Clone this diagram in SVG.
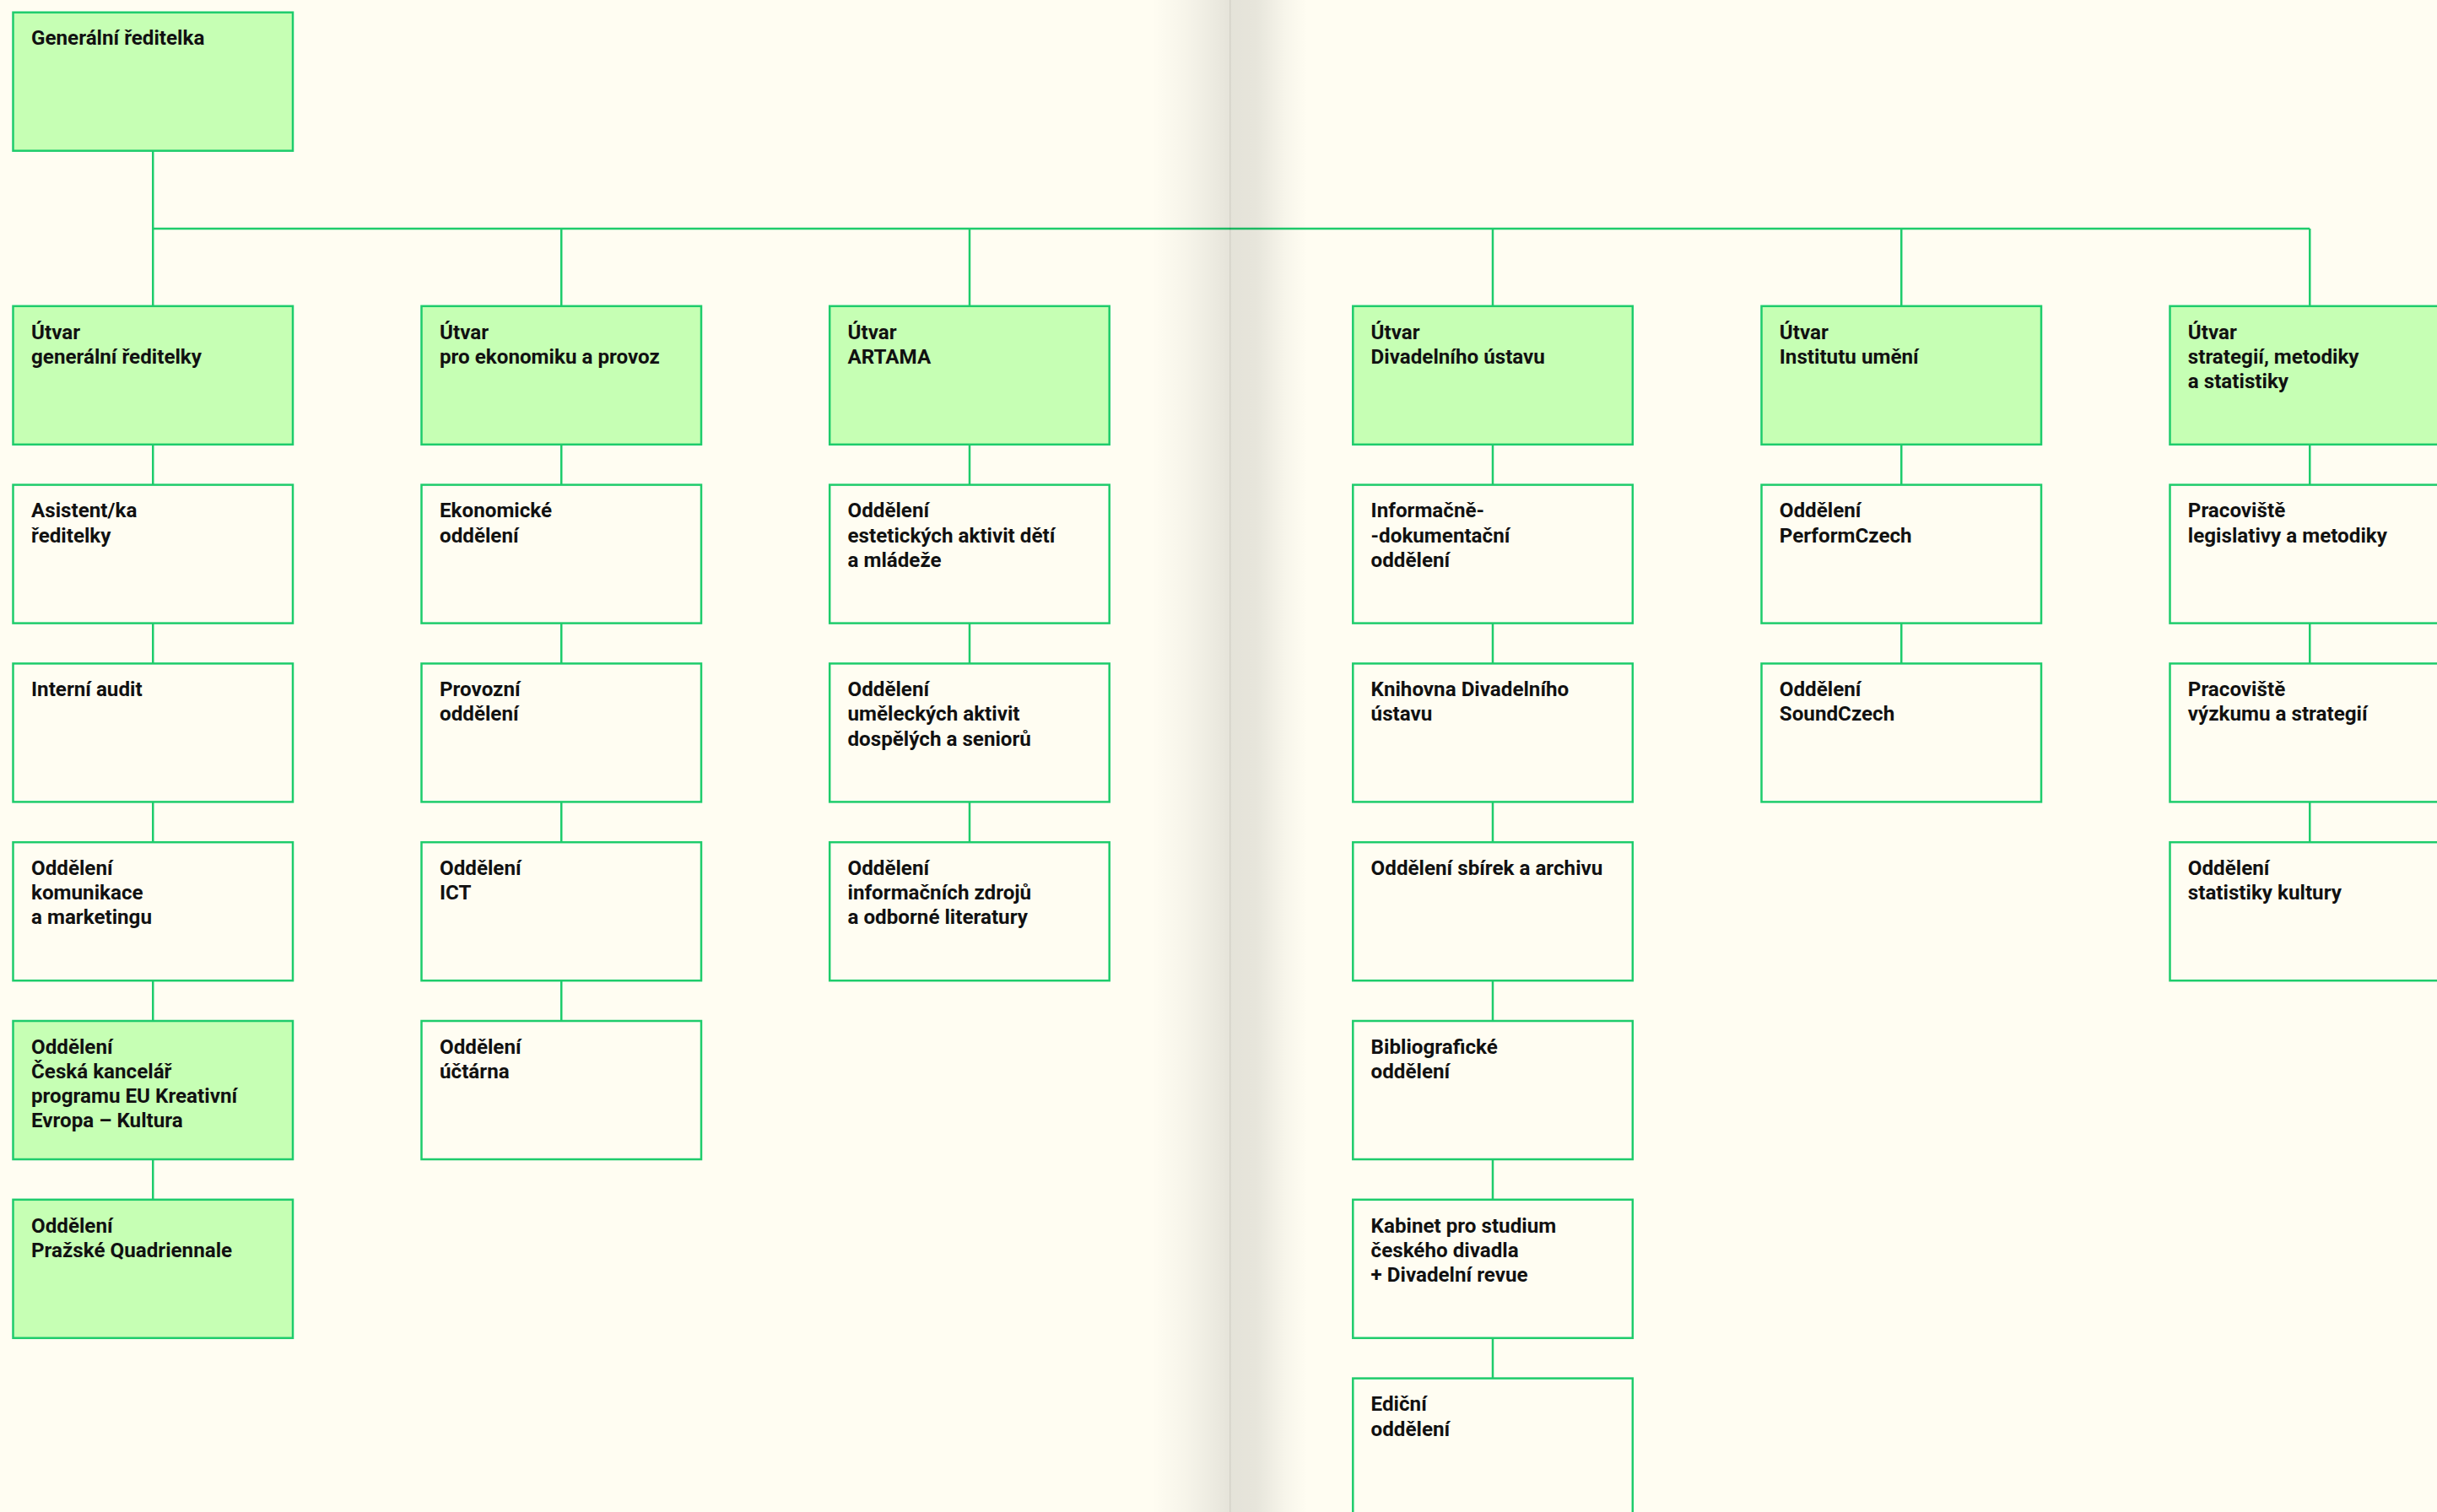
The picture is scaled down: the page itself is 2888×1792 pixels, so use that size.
<svg xmlns="http://www.w3.org/2000/svg" width="2888" height="1792" viewBox="0 0 2888 1792">
<defs>
<style>
.g{fill:#c6ffb4;stroke:#1ecc6c;stroke-width:2.5}
.w{fill:#fffdf2;stroke:#1ecc6c;stroke-width:2.5}
.c{stroke:#1ecc6c;stroke-width:2.5;fill:none}
.t{font-family:Roboto,"Liberation Sans",sans-serif;font-weight:700;font-size:24.2px;fill:#111111}
</style>
<linearGradient id="spine" x1="1365" y1="0" x2="1550" y2="0" gradientUnits="userSpaceOnUse">
<stop offset="0" stop-color="#000" stop-opacity="0"/>
<stop offset="0.22" stop-color="#000" stop-opacity="0.035"/>
<stop offset="0.4" stop-color="#000" stop-opacity="0.075"/>
<stop offset="0.495" stop-color="#000" stop-opacity="0.1"/>
<stop offset="0.5" stop-color="#000" stop-opacity="0.17"/>
<stop offset="0.51" stop-color="#000" stop-opacity="0.105"/>
<stop offset="0.67" stop-color="#000" stop-opacity="0.095"/>
<stop offset="0.77" stop-color="#000" stop-opacity="0.06"/>
<stop offset="0.86" stop-color="#000" stop-opacity="0.03"/>
<stop offset="1" stop-color="#000" stop-opacity="0"/>
</linearGradient>
</defs>
<rect x="0" y="0" width="2888" height="1792" fill="#fffdf2"/>
<g id="connectors">
<line class="c" x1="181.25" y1="178.7" x2="181.25" y2="362.8"/>
<line class="c" x1="181.25" y1="271" x2="2737.25" y2="271"/>
<line class="c" x1="665.25" y1="271" x2="665.25" y2="362.8"/>
<line class="c" x1="1149" y1="271" x2="1149" y2="362.8"/>
<line class="c" x1="1769" y1="271" x2="1769" y2="362.8"/>
<line class="c" x1="2253.25" y1="271" x2="2253.25" y2="362.8"/>
<line class="c" x1="2737.25" y1="271" x2="2737.25" y2="362.8"/>
<line class="c" x1="181.25" y1="526.8" x2="181.25" y2="1421.8"/>
<line class="c" x1="665.25" y1="526.8" x2="665.25" y2="1210"/>
<line class="c" x1="1149" y1="526.8" x2="1149" y2="998.2"/>
<line class="c" x1="1769" y1="526.8" x2="1769" y2="1633.6"/>
<line class="c" x1="2253.25" y1="526.8" x2="2253.25" y2="786.4"/>
<line class="c" x1="2737.25" y1="526.8" x2="2737.25" y2="998.2"/>
</g>
<g id="n-gr"><rect class="g" x="15.5" y="14.7" width="331.5" height="164"/><text class="t" x="37" y="53.4">Generální ředitelka</text></g>

<g id="n-u1"><rect class="g" x="15.5" y="362.8" width="331.5" height="164"/><text class="t" x="37" y="401.5"><tspan x="37">Útvar</tspan><tspan x="37" dy="29.2">generální ředitelky</tspan></text></g>
<g id="n-u1a"><rect class="w" x="15.5" y="574.6" width="331.5" height="164"/><text class="t" x="37" y="613.3"><tspan x="37">Asistent/ka</tspan><tspan x="37" dy="29.2">ředitelky</tspan></text></g>
<g id="n-u1b"><rect class="w" x="15.5" y="786.4" width="331.5" height="164"/><text class="t" x="37" y="825.1">Interní audit</text></g>
<g id="n-u1c"><rect class="w" x="15.5" y="998.2" width="331.5" height="164"/><text class="t" x="37" y="1036.9"><tspan x="37">Oddělení</tspan><tspan x="37" dy="29.2">komunikace</tspan><tspan x="37" dy="29.2">a marketingu</tspan></text></g>
<g id="n-u1d"><rect class="g" x="15.5" y="1210" width="331.5" height="164"/><text class="t" x="37" y="1248.7"><tspan x="37">Oddělení</tspan><tspan x="37" dy="29.2">Česká kancelář</tspan><tspan x="37" dy="29.2">programu EU Kreativní</tspan><tspan x="37" dy="29.2">Evropa – Kultura</tspan></text></g>
<g id="n-u1e"><rect class="g" x="15.5" y="1421.8" width="331.5" height="164"/><text class="t" x="37" y="1460.5"><tspan x="37">Oddělení</tspan><tspan x="37" dy="29.2">Pražské Quadriennale</tspan></text></g>

<g id="n-u2"><rect class="g" x="499.5" y="362.8" width="331.5" height="164"/><text class="t" x="521" y="401.5"><tspan x="521">Útvar</tspan><tspan x="521" dy="29.2">pro ekonomiku a provoz</tspan></text></g>
<g id="n-u2a"><rect class="w" x="499.5" y="574.6" width="331.5" height="164"/><text class="t" x="521" y="613.3"><tspan x="521">Ekonomické</tspan><tspan x="521" dy="29.2">oddělení</tspan></text></g>
<g id="n-u2b"><rect class="w" x="499.5" y="786.4" width="331.5" height="164"/><text class="t" x="521" y="825.1"><tspan x="521">Provozní</tspan><tspan x="521" dy="29.2">oddělení</tspan></text></g>
<g id="n-u2c"><rect class="w" x="499.5" y="998.2" width="331.5" height="164"/><text class="t" x="521" y="1036.9"><tspan x="521">Oddělení</tspan><tspan x="521" dy="29.2">ICT</tspan></text></g>
<g id="n-u2d"><rect class="w" x="499.5" y="1210" width="331.5" height="164"/><text class="t" x="521" y="1248.7"><tspan x="521">Oddělení</tspan><tspan x="521" dy="29.2">účtárna</tspan></text></g>

<g id="n-u3"><rect class="g" x="983.2" y="362.8" width="331.5" height="164"/><text class="t" x="1004.5" y="401.5"><tspan x="1004.5">Útvar</tspan><tspan x="1004.5" dy="29.2">ARTAMA</tspan></text></g>
<g id="n-u3a"><rect class="w" x="983.2" y="574.6" width="331.5" height="164"/><text class="t" x="1004.5" y="613.3"><tspan x="1004.5">Oddělení</tspan><tspan x="1004.5" dy="29.2">estetických aktivit dětí</tspan><tspan x="1004.5" dy="29.2">a mládeže</tspan></text></g>
<g id="n-u3b"><rect class="w" x="983.2" y="786.4" width="331.5" height="164"/><text class="t" x="1004.5" y="825.1"><tspan x="1004.5">Oddělení</tspan><tspan x="1004.5" dy="29.2">uměleckých aktivit</tspan><tspan x="1004.5" dy="29.2">dospělých a seniorů</tspan></text></g>
<g id="n-u3c"><rect class="w" x="983.2" y="998.2" width="331.5" height="164"/><text class="t" x="1004.5" y="1036.9"><tspan x="1004.5">Oddělení</tspan><tspan x="1004.5" dy="29.2">informačních zdrojů</tspan><tspan x="1004.5" dy="29.2">a odborné literatury</tspan></text></g>

<g id="n-u4"><rect class="g" x="1603.3" y="362.8" width="331.5" height="164"/><text class="t" x="1624.6" y="401.5"><tspan x="1624.6">Útvar</tspan><tspan x="1624.6" dy="29.2">Divadelního ústavu</tspan></text></g>
<g id="n-u4a"><rect class="w" x="1603.3" y="574.6" width="331.5" height="164"/><text class="t" x="1624.6" y="613.3"><tspan x="1624.6">Informačně-</tspan><tspan x="1624.6" dy="29.2">-dokumentační</tspan><tspan x="1624.6" dy="29.2">oddělení</tspan></text></g>
<g id="n-u4b"><rect class="w" x="1603.3" y="786.4" width="331.5" height="164"/><text class="t" x="1624.6" y="825.1"><tspan x="1624.6">Knihovna Divadelního</tspan><tspan x="1624.6" dy="29.2">ústavu</tspan></text></g>
<g id="n-u4c"><rect class="w" x="1603.3" y="998.2" width="331.5" height="164"/><text class="t" x="1624.6" y="1036.9">Oddělení sbírek a archivu</text></g>
<g id="n-u4d"><rect class="w" x="1603.3" y="1210" width="331.5" height="164"/><text class="t" x="1624.6" y="1248.7"><tspan x="1624.6">Bibliografické</tspan><tspan x="1624.6" dy="29.2">oddělení</tspan></text></g>
<g id="n-u4e"><rect class="w" x="1603.3" y="1421.8" width="331.5" height="164"/><text class="t" x="1624.6" y="1460.5"><tspan x="1624.6">Kabinet pro studium</tspan><tspan x="1624.6" dy="29.2">českého divadla</tspan><tspan x="1624.6" dy="29.2">+ Divadelní revue</tspan></text></g>
<g id="n-u4f"><rect class="w" x="1603.3" y="1633.6" width="331.5" height="200"/><text class="t" x="1624.6" y="1672.3"><tspan x="1624.6">Ediční</tspan><tspan x="1624.6" dy="29.2">oddělení</tspan></text></g>

<g id="n-u5"><rect class="g" x="2087.5" y="362.8" width="331.5" height="164"/><text class="t" x="2108.8" y="401.5"><tspan x="2108.8">Útvar</tspan><tspan x="2108.8" dy="29.2">Institutu umění</tspan></text></g>
<g id="n-u5a"><rect class="w" x="2087.5" y="574.6" width="331.5" height="164"/><text class="t" x="2108.8" y="613.3"><tspan x="2108.8">Oddělení</tspan><tspan x="2108.8" dy="29.2">PerformCzech</tspan></text></g>
<g id="n-u5b"><rect class="w" x="2087.5" y="786.4" width="331.5" height="164"/><text class="t" x="2108.8" y="825.1"><tspan x="2108.8">Oddělení</tspan><tspan x="2108.8" dy="29.2">SoundCzech</tspan></text></g>

<g id="n-u6"><rect class="g" x="2571.5" y="362.8" width="331.5" height="164"/><text class="t" x="2592.8" y="401.5"><tspan x="2592.8">Útvar</tspan><tspan x="2592.8" dy="29.2">strategií, metodiky</tspan><tspan x="2592.8" dy="29.2">a statistiky</tspan></text></g>
<g id="n-u6a"><rect class="w" x="2571.5" y="574.6" width="331.5" height="164"/><text class="t" x="2592.8" y="613.3"><tspan x="2592.8">Pracoviště</tspan><tspan x="2592.8" dy="29.2">legislativy a metodiky</tspan></text></g>
<g id="n-u6b"><rect class="w" x="2571.5" y="786.4" width="331.5" height="164"/><text class="t" x="2592.8" y="825.1"><tspan x="2592.8">Pracoviště</tspan><tspan x="2592.8" dy="29.2">výzkumu a strategií</tspan></text></g>
<g id="n-u6c"><rect class="w" x="2571.5" y="998.2" width="331.5" height="164"/><text class="t" x="2592.8" y="1036.9"><tspan x="2592.8">Oddělení</tspan><tspan x="2592.8" dy="29.2">statistiky kultury</tspan></text></g>

<rect x="1365" y="0" width="185" height="1792" fill="url(#spine)"/>
</svg>
